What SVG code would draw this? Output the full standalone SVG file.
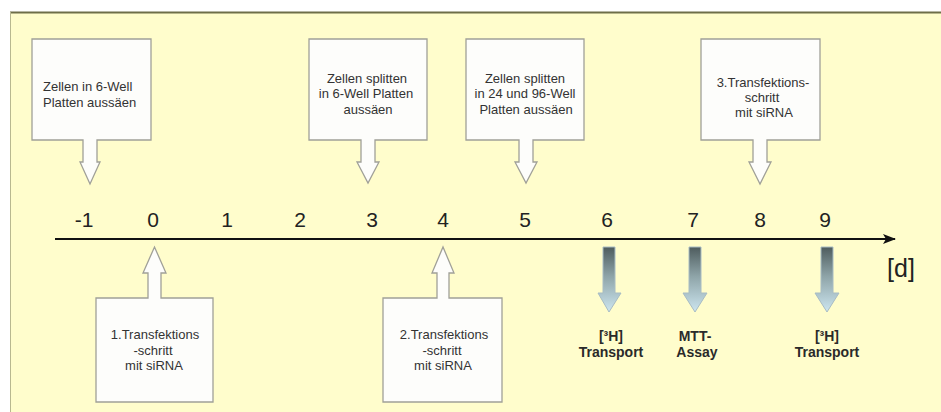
<svg xmlns="http://www.w3.org/2000/svg" width="941" height="412" viewBox="0 0 941 412">
<defs>
<style>
.bg{fill:#fffdcc;}
.callout{fill:#fdfdfb;stroke:#a0a098;stroke-width:1.3;}
.t{font-family:"Liberation Sans",Arial,sans-serif;font-size:13px;fill:#333;}
.c{text-anchor:middle;}
.num{font-family:"Liberation Sans",Arial,sans-serif;font-size:21px;fill:#222;text-anchor:middle;}
.b{font-family:"Liberation Sans",Arial,sans-serif;font-size:14px;font-weight:bold;fill:#2a2a2a;text-anchor:middle;}
.garrow{fill:url(#grad);stroke:#a8bcc4;stroke-width:1;}
</style>
<linearGradient id="grad" x1="0" y1="0" x2="0" y2="1">
<stop offset="0" stop-color="#4e5c5e"/>
<stop offset="0.45" stop-color="#8ea4a8"/>
<stop offset="1" stop-color="#cde6f0"/>
</linearGradient>
<marker id="ah" markerWidth="14" markerHeight="10" refX="12" refY="5" orient="auto" markerUnits="userSpaceOnUse">
<path d="M0,0 L13,5 L0,10 L3,5 Z" fill="#111"/>
</marker>
</defs>

<rect x="0" y="0" width="941" height="412" fill="#ffffff"/>
<rect class="bg" x="10" y="12" width="931" height="400"/>
<line x1="10" y1="12.5" x2="941" y2="12.5" stroke="#6e6e48" stroke-width="2"/>
<line x1="10.5" y1="12" x2="10.5" y2="412" stroke="#b8b890" stroke-width="1"/>

<g id="connectors">
<line x1="55" y1="239" x2="895" y2="239" stroke="#111" stroke-width="2.2" marker-end="url(#ah)"/>
</g>

<g id="axis-labels">
<text class="num" x="84" y="227">-1</text>
<text class="num" x="153" y="227">0</text>
<text class="num" x="227" y="227">1</text>
<text class="num" x="300" y="227">2</text>
<text class="num" x="372" y="227">3</text>
<text class="num" x="443" y="227">4</text>
<text class="num" x="525" y="227">5</text>
<text class="num" x="607" y="227">6</text>
<text class="num" x="693" y="227">7</text>
<text class="num" x="760" y="227">8</text>
<text class="num" x="825" y="227">9</text>
<text x="901" y="277" font-family="'Liberation Sans',Arial,sans-serif" font-size="25" fill="#222" text-anchor="middle">[d]</text>
</g>

<g id="n1">
<path class="callout" d="M32,39 H151 V140 H97 V162 H100 L90,184 L80,162 H83 V140 H32 Z"/>
<text class="t" x="43" y="91">Zellen in 6-Well</text>
<text class="t" x="43" y="107">Platten aussäen</text>
</g>

<g id="n2">
<path class="callout" d="M309,39 H427 V140 H375 V162 H379 L368,183 L357,162 H361 V140 H309 Z"/>
<text class="t c" x="367" y="83">Zellen splitten</text>
<text class="t c" x="366" y="98">in 6-Well Platten</text>
<text class="t c" x="368" y="114">aussäen</text>
</g>

<g id="n3">
<path class="callout" d="M466,39 H584 V140 H533 V162 H537 L526,183 L515,162 H519 V140 H466 Z"/>
<text class="t c" x="525" y="83">Zellen splitten</text>
<text class="t c" x="525" y="98">in 24 und 96-Well</text>
<text class="t c" x="526" y="114">Platten aussäen</text>
</g>

<g id="n4">
<path class="callout" d="M701,39 H820 V140 H767 V162 H771 L760,184 L749,162 H753 V140 H701 Z"/>
<text class="t c" x="763" y="87">3.Transfektions-</text>
<text class="t c" x="762" y="102">schritt</text>
<text class="t c" x="764" y="117">mit siRNA</text>
</g>

<g id="n5">
<path class="callout" d="M96,298 H148 V273 H143 L154.5,247 L166,273 H161 V298 H213 V402 H96 Z"/>
<text class="t c" x="155" y="339">1.Transfektions</text>
<text class="t c" x="153" y="355">-schritt</text>
<text class="t c" x="154" y="370">mit siRNA</text>
</g>

<g id="n6">
<path class="callout" d="M383,298 H437 V273 H432 L443,247 L454,273 H449 V298 H502 V402 H383 Z"/>
<text class="t c" x="444" y="339">2.Transfektions</text>
<text class="t c" x="442" y="355">-schritt</text>
<text class="t c" x="443" y="370">mit siRNA</text>
</g>

<g id="n7">
<path class="garrow" d="M603,247 H615 V293 H621 L609,312 L598,293 H603 Z"/>
<text class="b" x="611" y="341">[³H]</text>
<text class="b" x="611" y="357">Transport</text>
</g>

<g id="n8">
<path class="garrow" d="M689,247 H701 V293 H707 L695,312 L683,293 H689 Z"/>
<text class="b" x="695" y="341">MTT-</text>
<text class="b" x="697" y="357">Assay</text>
</g>

<g id="n9">
<path class="garrow" d="M821,247 H833 V293 H839 L827,312 L815,293 H821 Z"/>
<text class="b" x="827" y="341">[³H]</text>
<text class="b" x="827" y="357">Transport</text>
</g>
</svg>
